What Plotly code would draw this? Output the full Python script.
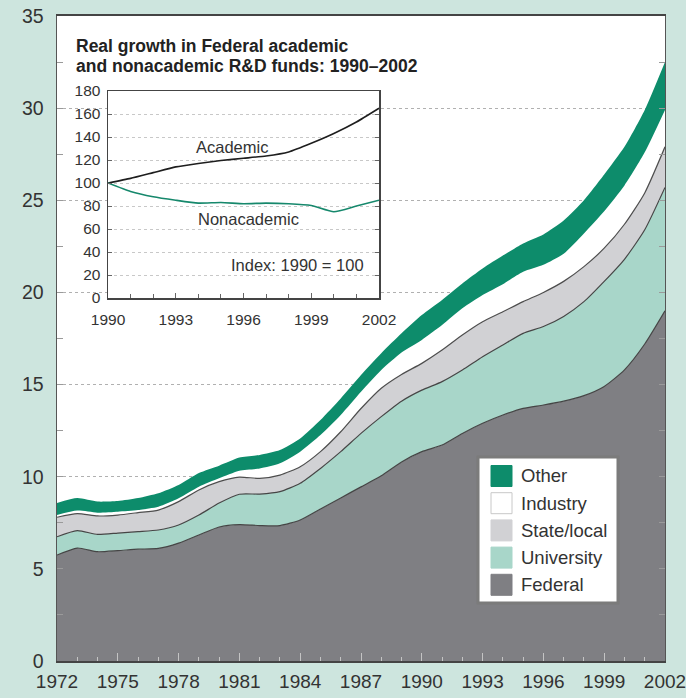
import plotly.graph_objects as go

# ---------------- data ----------------
years = list(range(1972, 2003))
federal = [5.75, 6.13, 5.93, 5.99, 6.07, 6.11, 6.40, 6.84, 7.27, 7.40, 7.35, 7.35, 7.65, 8.25, 8.85, 9.45,
           10.05, 10.80, 11.36, 11.72, 12.35, 12.90, 13.35, 13.71, 13.89, 14.10, 14.40, 14.90, 15.80, 17.20, 19.00]
university = [0.99, 0.94, 0.94, 0.95, 0.95, 1.00, 0.98, 1.08, 1.30, 1.65, 1.71, 1.84, 1.99, 2.20, 2.51, 2.90,
              3.21, 3.30, 3.34, 3.44, 3.44, 3.61, 3.80, 4.07, 4.26, 4.60, 5.10, 5.70, 6.00, 6.20, 6.70]
state_local = [1.06, 0.93, 1.00, 0.98, 1.03, 1.08, 1.27, 1.36, 1.16, 0.93, 0.85, 0.90, 0.90, 0.91, 1.08, 1.35,
               1.54, 1.45, 1.45, 1.71, 1.90, 1.90, 1.80, 1.72, 1.85, 1.90, 1.90, 1.80, 1.90, 2.00, 2.20]
industry = [0.12, 0.16, 0.18, 0.18, 0.14, 0.18, 0.18, 0.18, 0.19, 0.35, 0.54, 0.64, 0.82, 0.90, 0.91, 0.91,
            0.99, 1.19, 1.27, 1.36, 1.45, 1.45, 1.50, 1.62, 1.50, 1.50, 1.80, 2.00, 2.10, 2.20, 2.00]
other = [0.65, 0.68, 0.60, 0.58, 0.65, 0.73, 0.72, 0.74, 0.68, 0.71, 0.73, 0.72, 0.72, 0.82, 0.90, 0.91,
         0.91, 1.04, 1.35, 1.36, 1.35, 1.44, 1.55, 1.54, 1.65, 1.80, 1.80, 2.00, 2.10, 2.30, 2.60]

inset_years = list(range(1990, 2003))
academic = [100, 104, 109, 114, 117, 119.5, 121.5, 123.5, 127, 134.5, 143, 153, 165]
nonacademic = [100, 92.6, 88, 85, 82.5, 83, 82, 82.5, 82, 80.5, 75, 80, 85]

main_xticks = list(range(1972, 2003, 3))
main_yticks = list(range(0, 36, 5))
inset_xticks = [1990, 1993, 1996, 1999, 2002]
inset_yticks = list(range(0, 181, 20))

series_names = ["Federal", "University", "State/local", "Industry", "Other"]
series_values = [federal, university, state_local, industry, other]
fill_colors = ["#7f7f83", "#a8d6c9", "#d1d1d4", "#ffffff", "#0d8c6b"]
edge_colors = ["#454545", "#454545", "#4d4d4d", "#ffffff", "#0d8c6b"]
edge_widths = [1.2, 1.2, 1.2, 0, 0]
legend_order = ["Other", "Industry", "State/local", "University", "Federal"]

# ---------------- layout helpers ----------------
W, H = 686, 698
L, R, T, B = 57, 21, 16, 37
FONT = "Liberation Sans, Arial, sans-serif"
TXT = "#333333"
BG = "#cde5de"


def px(x):
    return (x - L) / (W - L - R)


def py(y):
    return (H - B - y) / (H - T - B)


fig = go.Figure()

for name, vals, fc, ec, ew in zip(series_names, series_values, fill_colors, edge_colors, edge_widths):
    fig.add_trace(go.Scatter(
        x=years, y=vals, name=name, stackgroup="one", mode="lines",
        fillcolor=fc, line=dict(color=ec, width=ew, shape="spline", smoothing=0.6),
        showlegend=False, hoverinfo="skip"))

fig.add_trace(go.Scatter(x=inset_years, y=academic, mode="lines", xaxis="x2", yaxis="y2",
                         line=dict(color="#1e1e1e", width=1.6, shape="spline", smoothing=0.5),
                         showlegend=False, hoverinfo="skip"))
fig.add_trace(go.Scatter(x=inset_years, y=nonacademic, mode="lines", xaxis="x2", yaxis="y2",
                         line=dict(color="#16886c", width=1.6, shape="spline", smoothing=0.5),
                         showlegend=False, hoverinfo="skip"))

shapes = []
# white panel behind the inset (covers main gridlines)
shapes.append(dict(type="rect", xref="paper", yref="paper", layer="between",
                   x0=px(67), x1=px(390), y0=py(337), y1=py(24),
                   fillcolor="white", line=dict(width=0)))
# custom legend box
shapes.append(dict(type="rect", xref="paper", yref="paper", layer="above",
                   x0=px(478), x1=px(618), y0=py(603), y1=py(457),
                   fillcolor="white", line=dict(color="#7b7b7b", width=3)))
annotations = []
legend_colors = {n: c for n, c in zip(series_names, fill_colors)}
for i, name in enumerate(legend_order):
    cy = 476 + i * 27.2
    shapes.append(dict(type="rect", xref="paper", yref="paper", layer="above",
                       x0=px(491), x1=px(512), y0=py(cy + 10.5), y1=py(cy - 10.5),
                       fillcolor=legend_colors[name],
                       line=dict(color="#c8c8c8" if name == "Industry" else legend_colors[name], width=1)))
    annotations.append(dict(xref="paper", yref="paper", x=px(519), y=py(cy), text=name,
                            showarrow=False, xanchor="left", yanchor="middle",
                            font=dict(family=FONT, size=18.5, color=TXT)))

# inset title
annotations.append(dict(xref="paper", yref="paper", x=px(74), y=py(46.5),
                        text="<b>Real growth in Federal academic</b>", showarrow=False,
                        xanchor="left", yanchor="middle", font=dict(family=FONT, size=17.5, color="#222222")))
annotations.append(dict(xref="paper", yref="paper", x=px(74), y=py(65.5),
                        text="<b>and nonacademic R&D funds: 1990\u20132002</b>", showarrow=False,
                        xanchor="left", yanchor="middle", font=dict(family=FONT, size=17.5, color="#222222")))
# inset labels
annotations.append(dict(xref="x2", yref="y2", x=1995.5, y=131, text="Academic", showarrow=False,
                        font=dict(family=FONT, size=16.5, color=TXT)))
annotations.append(dict(xref="x2", yref="y2", x=1996.2, y=68.5, text="Nonacademic", showarrow=False,
                        font=dict(family=FONT, size=16.5, color=TXT)))
annotations.append(dict(xref="x2", yref="y2", x=1998.4, y=28.5, text="Index: 1990 = 100", showarrow=False,
                        font=dict(family=FONT, size=16.5, color=TXT)))

fig.update_layout(
    width=W, height=H,
    margin=dict(l=L, r=R, t=T, b=B, pad=0, autoexpand=False),
    paper_bgcolor=BG, plot_bgcolor="white",
    font=dict(family=FONT, color=TXT),
    shapes=shapes, annotations=annotations,
    showlegend=False,
    xaxis=dict(range=[1972, 2002], tickvals=main_xticks, ticks="inside", ticklen=8,
               tickcolor="#c4c4c4", tickwidth=1, automargin=False, ticklabeloverflow="allow",
               minor=dict(dtick=1, tick0=1972, ticks="inside", ticklen=4, tickcolor="#c4c4c4"),
               showgrid=False, zeroline=False, showline=True, linecolor="#444444", linewidth=1.6,
               mirror=True, tickfont=dict(size=19, color=TXT), ticklabelstandoff=3),
    yaxis=dict(range=[0, 35], tickvals=main_yticks, ticks="inside", ticklen=6,
               tickcolor="#9a9a9a", mirror="allticks", automargin=False,
               minor=dict(dtick=2.5, ticks="inside", ticklen=6, tickcolor="#9a9a9a"),
               showgrid=True, gridcolor="#b0b0b0", griddash="dot", gridwidth=1,
               zeroline=False, showline=True, linecolor="#555555", linewidth=1.4,
               tickfont=dict(size=19.5, color=TXT), ticklabelstandoff=8),
    xaxis2=dict(domain=[px(108), px(379)], anchor="y2", range=[1990, 2002], tickvals=inset_xticks,
                ticks="inside", ticklen=5, tickcolor="#666666", automargin=False, ticklabeloverflow="allow",
                minor=dict(dtick=1, tick0=1990, ticks="inside", ticklen=4, tickcolor="#666666"),
                showgrid=False, zeroline=False, showline=True, linecolor="#444444", linewidth=1.5,
                mirror=True, tickfont=dict(size=15.5, color=TXT), ticklabelstandoff=7),
    yaxis2=dict(domain=[py(298), py(91)], anchor="x2", range=[0, 180], tickvals=inset_yticks,
                ticks="inside", ticklen=4, tickcolor="#666666", mirror="allticks", automargin=False,
                showgrid=True, gridcolor="#c8c8c8", griddash="dot", gridwidth=1,
                zeroline=False, showline=True, linecolor="#444444", linewidth=1.5,
                tickfont=dict(size=15.5, color=TXT), ticklabelstandoff=3),
)

fig.write_html(
    "out.html",
    config={"displayModeBar": False, "staticPlot": True},
    post_script="document.body.style.margin='0px';document.body.style.padding='0px';"
                "document.body.style.background='" + BG + "';"
                "document.documentElement.style.background='" + BG + "';",
)
